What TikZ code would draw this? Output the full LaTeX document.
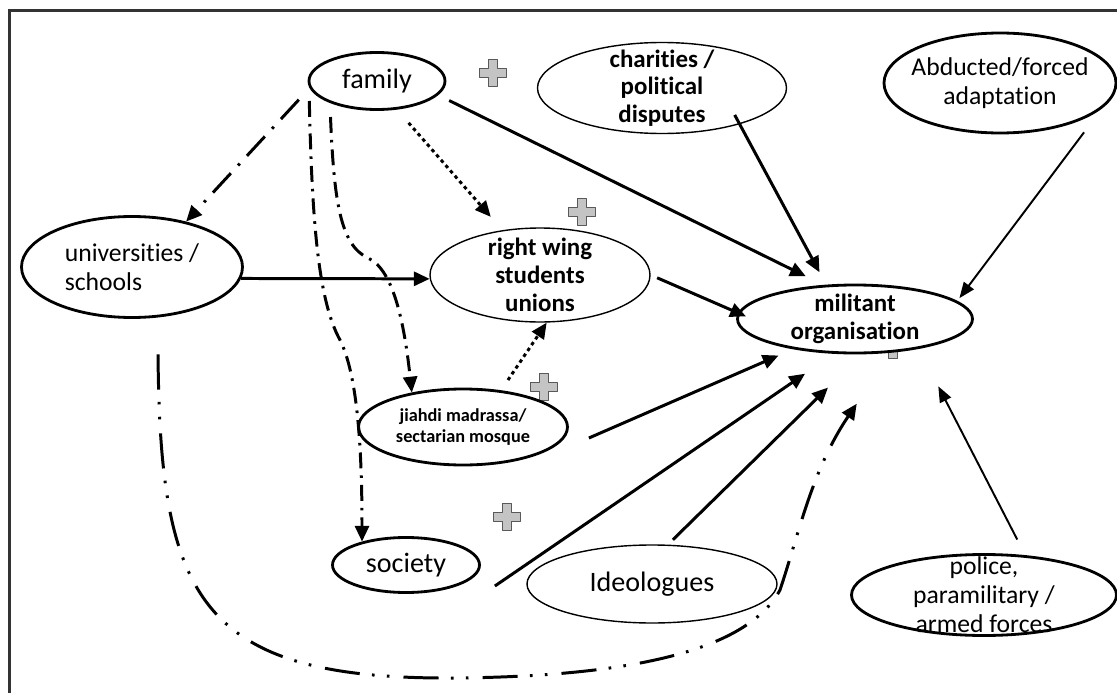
\documentclass[tikz,border=0pt]{standalone}
\usepackage{fontspec}
\setmainfont{Carlito}[Ligatures=NoCommon]
\usepackage{tikz}
\usetikzlibrary{arrows.meta,shapes.geometric}
\newcommand{\px}{0.02cm}
\newcommand{\thickline}{1.6pt}
\newcommand{\thinline}{0.8pt}
\definecolor{plusgray}{HTML}{C4C4C4}
\definecolor{framegray}{HTML}{333333}
\newcommand{\plussign}[1]{\filldraw[plusmark] (#1) ++(-4.5,-13.5) -- ++(9,0) -- ++(0,9) -- ++(9,0) -- ++(0,9) -- ++(-9,0) -- ++(0,9) -- ++(-9,0) -- ++(0,-9) -- ++(-9,0) -- ++(0,-9) -- ++(9,0) -- cycle;}
\tikzset{
  oval/.style 2 args={ellipse, draw, fill=white, line width=\thickline, minimum width=#1*\px, minimum height=#2*\px, inner sep=-15pt, align=center},
  thinoval/.style 2 args={oval={#1}{#2}, line width=\thinline},
  bigfont/.style={font=\fontsize{16}{18}\selectfont},
  textfont/.style={font=\fontsize{14.6}{16.5}\selectfont},
  boldfont/.style={font=\fontsize{14.2}{15.8}\selectfont\bfseries},
  smallfont/.style={font=\fontsize{10.4}{11.5}\selectfont\bfseries},
  arr/.style={line width=1.7pt, -{Triangle[length=9pt,width=8pt]}},
  thinarr/.style={line width=1.1pt, -{Triangle[length=9pt,width=7pt]}},
  dotarr/.style={arr, dash pattern=on 2pt off 2pt},
  dasharr/.style={arr, dash pattern=on 9pt off 4pt on 1.5pt off 4pt},
  longdasharr/.style={arr, dash pattern=on 15pt off 6pt on 1.5pt off 6pt},
  dashdotdot/.style={arr, dash pattern=on 20pt off 7pt on 1.5pt off 7pt on 1.5pt off 8pt},
  plusmark/.style={fill=plusgray, draw=black!65, line width=0.7pt, line join=round},
  frameline/.style={draw=framegray, line width=1.5pt}
}

\begin{document}
\begin{tikzpicture}[x=\px, y=-\px]
\useasboundingbox (0,0) rectangle (1117,693);
\draw[frameline] (9.5,693) -- (9.5,10.5) -- (1117,10.5);
%crosses
\plussign{493,73}
\plussign{582,212}
\plussign{544,387}
\plussign{507,517}
\plussign{893,345}
%nodes
\node[oval={136}{57}, bigfont] (family) at (377,81) {family};
\node[thinoval={249}{91}, boldfont] (charities) at (662,88) {charities /\\political\\disputes};
\node[oval={232}{100}, textfont] (abducted) at (1000,83) {Abducted/forced\\adaptation};
\node[oval={221}{101}, textfont, align=left] (schools) at (132,267) {universities /\\schools};
\node[thinoval={220}{94}, boldfont] (students) at (540,275) {right wing\\students\\unions};
\node[oval={235}{68}, boldfont] (militant) at (855,319) {militant\\organisation};
\node[oval={209}{76}, smallfont] (madrassa) at (463,427) {jiahdi madrassa/\\sectarian mosque};
\node[oval={147}{55}, bigfont] (society) at (406,565) {society};
\node[thinoval={250}{78}, bigfont] (ideologues) at (652,584) {Ideologues};
\node[oval={265}{81}, textfont] (forces) at (984,595) {police,\\paramilitary /\\armed forces};
%family links
\draw[longdasharr, shorten <=9pt] (family.186) -- (schools.40);
\draw[dotarr, shorten <=10pt, shorten >=10pt] (family.-55) -- (students.130);
\draw[dasharr, shorten <=8pt] (family.185) .. controls (312,220) and (318,300) .. (340,340) .. controls (355,370) and (362,430) .. (society.152);
\draw[dasharr, shorten <=8pt] (family.205) .. controls (334,200) and (340,245) .. (368,258) .. controls (395,270) and (405,330) .. (madrassa.146);
\draw[arr] (schools.-6) -- (students.182);
\draw[dotarr, shorten <=7pt] (madrassa.44) -- (students.-82);
\draw[dashdotdot, shorten <=21pt, shorten >=35pt] (schools.-63) .. controls (160,600) and (200,680) .. (457,678) .. controls (650,676) and (750,645) .. (780,590) .. controls (800,530) and (812,470) .. (militant.-43);
%to militant
\draw[arr, shorten <=7pt, shorten >=11pt] (family.-13) -- (militant.133);
\draw[arr, shorten <=-6pt, shorten >=8pt] (charities.-25) -- (militant.130);
\draw[thinarr, shorten <=17pt, shorten >=2pt] (abducted.-14) -- (militant.10);
\draw[arr, shorten <=4pt, shorten >=-5pt] (students.east) -- (militant.177);
\draw[arr, shorten >=9pt] ([shift={(20,11)}]madrassa.east) -- (militant.206);
\draw[arr, shorten >=20pt] ([shift={(14,21)}]society.east) -- (militant.239);
\draw[arr, shorten <=4pt, shorten >=27pt] (ideologues.68) -- (militant.281);
\draw[thinarr, shorten <=10pt, shorten >=24pt] (forces.44) -- (militant.-25);
\end{tikzpicture}
\end{document}
